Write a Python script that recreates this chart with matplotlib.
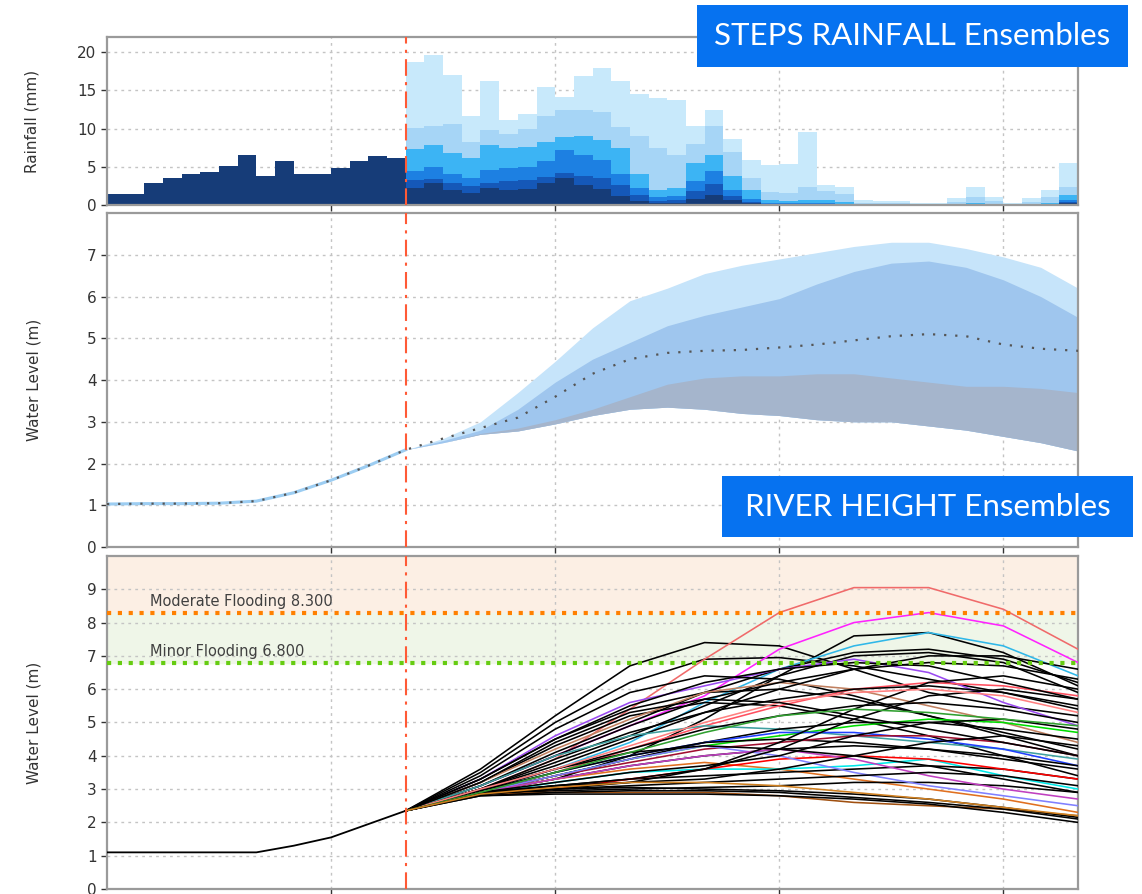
import numpy as np
import matplotlib.pyplot as plt
from matplotlib.patches import Rectangle

# ---- rainfall (mm per 2 h) ----
obs_t = np.arange(-32, 0, 2)
obs_rain = [1.5, 1.5, 2.9, 3.5, 4.0, 4.3, 5.1, 6.6, 3.8, 5.7, 4.0, 4.0, 4.9, 5.8, 6.4, 6.1]

fc_t = np.arange(0, 72, 2)
# cumulative tops of the ensemble layers, lowest -> highest
rain_p10 = [2.2, 2.9, 2.0, 1.6, 2.2, 2.0, 2.1, 2.9, 3.5, 2.6, 2.1, 1.2, 0.5, 0.2, 0.2, 0.8, 1.3, 0.6,
            0.2, 0.1, 0.1, 0.1, 0.1, 0.0, 0.0, 0.0, 0.0, 0.0, 0.0, 0.0, 0.0, 0.0, 0.0, 0.0, 0.0, 0.2]
rain_p25 = [3.3, 3.4, 2.9, 2.5, 2.9, 3.2, 3.3, 3.7, 4.2, 3.8, 3.5, 2.6, 1.3, 0.5, 0.6, 1.8, 2.8, 1.2,
            0.4, 0.1, 0.1, 0.1, 0.1, 0.1, 0.0, 0.0, 0.0, 0.0, 0.0, 0.0, 0.0, 0.0, 0.0, 0.0, 0.1, 0.4]
rain_p50 = [4.4, 5.0, 4.0, 3.6, 4.6, 4.8, 5.0, 5.8, 7.2, 6.5, 5.9, 4.0, 2.2, 1.0, 1.2, 3.2, 4.5, 2.0,
            0.8, 0.2, 0.2, 0.2, 0.2, 0.1, 0.0, 0.0, 0.0, 0.0, 0.0, 0.0, 0.1, 0.0, 0.0, 0.0, 0.1, 0.7]
rain_p75 = [7.3, 7.9, 6.8, 6.2, 7.9, 7.4, 7.6, 8.3, 8.9, 9.0, 8.5, 7.5, 4.0, 2.0, 2.2, 5.5, 6.6, 3.8,
            2.0, 0.6, 0.5, 0.6, 0.6, 0.4, 0.1, 0.1, 0.1, 0.0, 0.0, 0.1, 0.3, 0.1, 0.0, 0.1, 0.3, 1.3]
rain_p90 = [10.1, 10.4, 10.6, 8.2, 9.8, 9.3, 10.0, 11.7, 12.4, 12.4, 12.2, 10.2, 9.0, 7.5, 6.5, 8.0, 10.3, 7.0,
            3.5, 1.7, 1.6, 2.4, 1.8, 1.5, 0.3, 0.2, 0.2, 0.1, 0.1, 0.4, 1.0, 0.5, 0.1, 0.4, 1.0, 2.4]
rain_max = [18.7, 19.7, 17.0, 11.6, 16.3, 11.1, 11.9, 15.4, 14.2, 16.9, 18.0, 16.2, 14.5, 14.0, 13.7, 10.4, 12.5, 8.7,
            5.9, 5.2, 5.4, 9.6, 2.6, 2.3, 0.65, 0.5, 0.5, 0.3, 0.2, 0.9, 2.4, 1.0, 0.3, 0.9, 2.0, 5.5]

# ---- water level, observed ----
lvl_obs_t = [-32, -28, -24, -20, -16, -12, -8, -4, 0]
lvl_obs = [1.03, 1.04, 1.04, 1.05, 1.1, 1.3, 1.6, 1.95, 2.33]

# ---- water level, ensemble bands ----
band_t = [0, 4, 8, 12, 16, 20, 24, 28, 32, 36, 40, 44, 48, 52, 56, 60, 64, 68, 72]
band_low = [2.33, 2.5, 2.7, 2.78, 2.95, 3.15, 3.3, 3.35, 3.3, 3.2, 3.15, 3.05, 3.0, 3.0, 2.9, 2.8, 2.65, 2.5, 2.3]
band_q25 = [2.33, 2.5, 2.72, 2.85, 3.05, 3.3, 3.6, 3.9, 4.05, 4.1, 4.1, 4.15, 4.15, 4.05, 3.95, 3.85, 3.85, 3.8, 3.7]
band_q75 = [2.33, 2.55, 2.8, 3.3, 3.95, 4.5, 4.9, 5.3, 5.55, 5.75, 5.95, 6.3, 6.6, 6.8, 6.85, 6.7, 6.4, 6.0, 5.5]
band_high = [2.33, 2.6, 3.0, 3.7, 4.45, 5.25, 5.9, 6.2, 6.55, 6.75, 6.9, 7.05, 7.2, 7.3, 7.3, 7.15, 6.95, 6.7, 6.2]
band_med = [2.33, 2.6, 2.85, 3.1, 3.6, 4.15, 4.5, 4.65, 4.7, 4.72, 4.78, 4.85, 4.95, 5.05, 5.1, 5.05, 4.85, 4.75, 4.7]

# ---- river height ensemble members ----
hist_t = [-32, -24, -16, -12, -8, -4, 0]
hist_lvl = [1.1, 1.1, 1.1, 1.3, 1.55, 1.95, 2.35]

ens_t = [0, 8, 16, 24, 32, 40, 48, 56, 64, 72]
ens_members = [
    [2.35, 3.6, 5.2, 6.7, 7.4, 7.3, 6.6, 5.9, 5.5, 5.2],
    [2.35, 3.5, 5.0, 6.2, 6.9, 6.95, 6.7, 6.3, 5.9, 5.4],
    [2.35, 3.0, 3.9, 5.4, 6.9, 8.3, 9.05, 9.05, 8.4, 7.2],
    [2.35, 3.1, 4.0, 4.9, 5.8, 7.2, 8.0, 8.3, 7.9, 6.8],
    [2.35, 2.9, 3.3, 4.0, 5.1, 6.4, 7.6, 7.7, 7.1, 6.1],
    [2.35, 2.95, 3.6, 4.4, 5.6, 6.6, 7.3, 7.7, 7.3, 6.4],
    [2.35, 3.1, 4.1, 5.0, 5.9, 6.6, 7.1, 7.2, 6.9, 6.2],
    [2.35, 3.0, 3.8, 4.6, 5.5, 6.4, 7.0, 7.1, 6.8, 5.9],
    [2.35, 3.3, 4.6, 5.6, 6.1, 6.6, 6.9, 6.5, 5.6, 4.9],
    [2.35, 3.4, 4.8, 5.9, 6.4, 6.3, 5.8, 5.2, 4.7, 4.2],
    [2.35, 3.3, 4.5, 5.4, 5.9, 6.0, 5.7, 5.2, 4.6, 4.0],
    [2.35, 3.2, 4.3, 5.2, 5.6, 5.5, 5.1, 4.6, 4.0, 3.4],
    [2.35, 3.2, 4.2, 5.1, 5.9, 6.2, 6.0, 5.5, 5.0, 4.4],
    [2.35, 3.1, 4.0, 4.9, 5.7, 6.2, 6.6, 6.8, 6.7, 6.3],
    [2.35, 3.0, 3.7, 4.5, 5.3, 6.0, 6.6, 7.0, 7.0, 6.6],
    [2.35, 2.9, 3.5, 4.2, 4.9, 5.5, 6.0, 6.2, 6.1, 5.8],
    [2.35, 3.0, 3.9, 4.7, 5.3, 5.7, 6.0, 6.1, 5.9, 5.5],
    [2.35, 3.1, 4.0, 4.6, 4.9, 4.8, 4.6, 4.4, 4.2, 3.9],
    [2.35, 2.95, 3.6, 4.2, 4.8, 5.2, 5.5, 5.6, 5.4, 5.0],
    [2.35, 2.9, 3.4, 3.9, 4.3, 4.6, 4.9, 5.1, 5.0, 4.7],
    [2.35, 2.9, 3.4, 3.9, 4.4, 4.8, 5.0, 5.0, 4.8, 4.5],
    [2.35, 2.9, 3.5, 4.0, 4.4, 4.7, 4.7, 4.5, 4.2, 3.7],
    [2.35, 2.95, 3.5, 4.0, 4.4, 4.5, 4.4, 4.2, 3.9, 3.6],
    [2.35, 2.9, 3.4, 3.8, 4.2, 4.4, 4.6, 4.6, 4.4, 4.0],
    [2.35, 2.9, 3.3, 3.7, 4.0, 4.2, 4.3, 4.2, 4.0, 3.7],
    [2.35, 2.9, 3.3, 3.6, 3.8, 3.6, 3.3, 3.0, 2.7, 2.3],
    [2.35, 2.85, 3.2, 3.5, 3.6, 3.6, 3.7, 3.9, 3.4, 3.0],
    [2.35, 2.85, 3.1, 3.3, 3.4, 3.5, 3.6, 3.7, 3.6, 3.3],
    [2.35, 2.85, 3.0, 3.3, 3.6, 3.9, 4.0, 3.9, 3.6, 3.3],
    [2.35, 2.85, 2.95, 3.0, 3.05, 3.1, 3.2, 3.2, 3.1, 2.9],
    [2.35, 2.85, 2.9, 2.9, 2.9, 2.8, 2.6, 2.5, 2.4, 2.2],
    [2.35, 2.8, 2.85, 2.85, 2.85, 2.8, 2.7, 2.55, 2.3, 2.0],
    [2.35, 2.8, 2.9, 2.95, 2.95, 2.9, 2.75, 2.6, 2.4, 2.1],
    [2.35, 2.9, 3.4, 3.9, 4.3, 4.0, 3.5, 3.1, 2.8, 2.5],
    [2.35, 2.9, 3.3, 3.7, 4.0, 4.2, 3.9, 3.4, 3.0, 2.7],
    [2.35, 2.85, 3.0, 3.1, 3.2, 3.3, 3.4, 3.5, 3.4, 3.1],
    [2.35, 2.9, 3.2, 3.5, 3.7, 4.0, 4.6, 5.0, 5.1, 4.8],
    [2.35, 2.9, 3.1, 3.3, 3.6, 4.2, 5.1, 5.8, 6.0, 5.7],
    [2.35, 2.85, 3.0, 3.2, 3.6, 4.4, 5.4, 6.2, 6.4, 6.0],
    [2.35, 2.9, 3.1, 3.2, 3.3, 3.6, 4.0, 4.4, 4.6, 4.3],
    [2.35, 3.0, 3.6, 4.1, 4.3, 4.2, 4.0, 3.7, 3.3, 2.9],
    [2.35, 3.0, 3.6, 4.3, 5.0, 5.6, 5.9, 6.0, 5.8, 5.3],
    [2.35, 3.2, 4.4, 5.3, 5.7, 5.6, 5.2, 4.8, 4.4, 4.0],
    [2.35, 3.3, 4.5, 5.5, 6.2, 6.6, 6.8, 6.7, 6.2, 5.7],
    [2.35, 2.9, 3.5, 4.1, 4.7, 5.2, 5.4, 5.3, 5.1, 4.9],
    [2.35, 2.85, 3.0, 3.05, 3.0, 2.95, 2.85, 2.7, 2.45, 2.15],
    [2.35, 2.85, 3.05, 3.2, 3.2, 3.1, 2.9, 2.7, 2.45, 2.2],
]
ens_colors = ['k', 'k', '#f06a6a', '#ff22ff', 'k', '#30b8e8', 'k', 'k', '#9a4af0', 'k',
              'k', 'k', '#c08060', 'k', 'k', '#ff5060', 'k', '#40a0a0', 'k', '#00dd00',
              'k', '#2040ff', 'k', '#a01030', 'k', '#e07020', '#00e8e8', 'k', '#ff0000', 'k',
              '#a05010', 'k', 'k', '#8080ff', '#c040c0', 'k', 'k', 'k', 'k', 'k',
              'k', '#ff8080', 'k', 'k', '#30a030', 'k', '#d08020']

minor_level = 6.8
moderate_level = 8.3

fig = plt.figure(figsize=(11.42, 8.94), dpi=100)
left, width = 0.0937, 0.8503
ax1 = fig.add_axes([left, 0.7707, width, 0.1879])
ax2 = fig.add_axes([left, 0.3881, width, 0.3736])
ax3 = fig.add_axes([left, 0.0056, width, 0.3725])

grid_kw = dict(color='#c4c4c4', linestyle=(0, (2, 3)), linewidth=1.0)
for ax in (ax1, ax2, ax3):
    ax.set_xlim(-32, 72)
    ax.set_xticks([-8, 16, 40, 64])
    ax.tick_params(labelbottom=False, direction='out', length=4, colors='#333333',
                   labelsize=11, width=1)
    ax.grid(True, **grid_kw)
    ax.set_axisbelow(True)
    for s in ax.spines.values():
        s.set_color('#9a9a9a')
        s.set_linewidth(1.6)
    ax.axvline(0, color='#ff5a36', linestyle=(0, (8, 3, 1.5, 3)), linewidth=1.5, zorder=6)

# rainfall
ax1.bar(obs_t, obs_rain, width=2, align='edge', color='#163c78', zorder=2)
layer_cols = ['#c8e9fb', '#a6d5f6', '#3cb4f4', '#1d80e2', '#1558b8', '#163c78']
for vals, c in zip([rain_max, rain_p90, rain_p75, rain_p50, rain_p25, rain_p10], layer_cols):
    ax1.bar(fc_t, vals, width=2, align='edge', color=c, zorder=2)
ax1.set_ylim(0, 22)
ax1.set_yticks([0, 5, 10, 15, 20])
ax1.set_ylabel('Rainfall (mm)', fontsize=11, color='#333333', labelpad=27)

# water level bands
ax2.fill_between(band_t, band_low, band_high, color='#c6e4fa', linewidth=0, zorder=2)
ax2.fill_between(band_t, band_low, band_q75, color='#9fc6ee', linewidth=0, zorder=2)
ax2.fill_between(band_t, band_low, band_q25, color='#a5b5cc', linewidth=0, zorder=2)
ax2.plot(lvl_obs_t, lvl_obs, color='#9ccdf2', linewidth=2.2, zorder=3)
ax2.plot(lvl_obs_t + band_t[1:], lvl_obs + band_med[1:], color='#555555',
         linestyle=(0, (1, 4)), linewidth=1.6, zorder=4)
ax2.set_ylim(0, 8)
ax2.set_yticks(range(0, 8))
ax2.set_ylabel('Water Level (m)', fontsize=11, color='#333333', labelpad=33)

# river height ensembles
ax3.axhspan(moderate_level, 10, color='#fcefe4', zorder=0)
ax3.axhspan(minor_level, moderate_level, color='#eff6e8', zorder=0)
for vals, c in zip(ens_members, ens_colors):
    ax3.plot(ens_t, vals, color=c, linewidth=1.15, zorder=3)
ax3.plot(hist_t, hist_lvl, color='k', linewidth=1.3, zorder=3)
ax3.axhline(moderate_level, color='#ff8000', linestyle=(0, (1, 1.6)), linewidth=3, zorder=4)
ax3.axhline(minor_level, color='#66cc11', linestyle=(0, (1, 1.6)), linewidth=3, zorder=4)
ax3.text(-27.4, moderate_level + 0.12, 'Moderate Flooding 8.300', fontsize=10.5,
         color='#404040', va='bottom', zorder=5)
ax3.text(-27.4, minor_level + 0.12, 'Minor Flooding 6.800', fontsize=10.5,
         color='#404040', va='bottom', zorder=5)
ax3.set_ylim(0, 10)
ax3.set_yticks(range(0, 10))
ax3.set_ylabel('Water Level (m)', fontsize=11, color='#333333', labelpad=33)

# title boxes
for (x0, y0, w, h), label in [((0.6103, 0.9251, 0.3774, 0.0694), 'STEPS RAINFALL Ensembles'),
                              ((0.6322, 0.3993, 0.3599, 0.0682), 'RIVER HEIGHT Ensembles')]:
    fig.add_artist(Rectangle((x0, y0), w, h, transform=fig.transFigure,
                             facecolor='#0672f0', edgecolor='none', zorder=10))
    fig.text(x0 + w / 2, y0 + h / 2, label, ha='center', va='center', color='white',
             fontsize=22.5, family='Lato', zorder=11)

fig.savefig('out.png', dpi=100)
